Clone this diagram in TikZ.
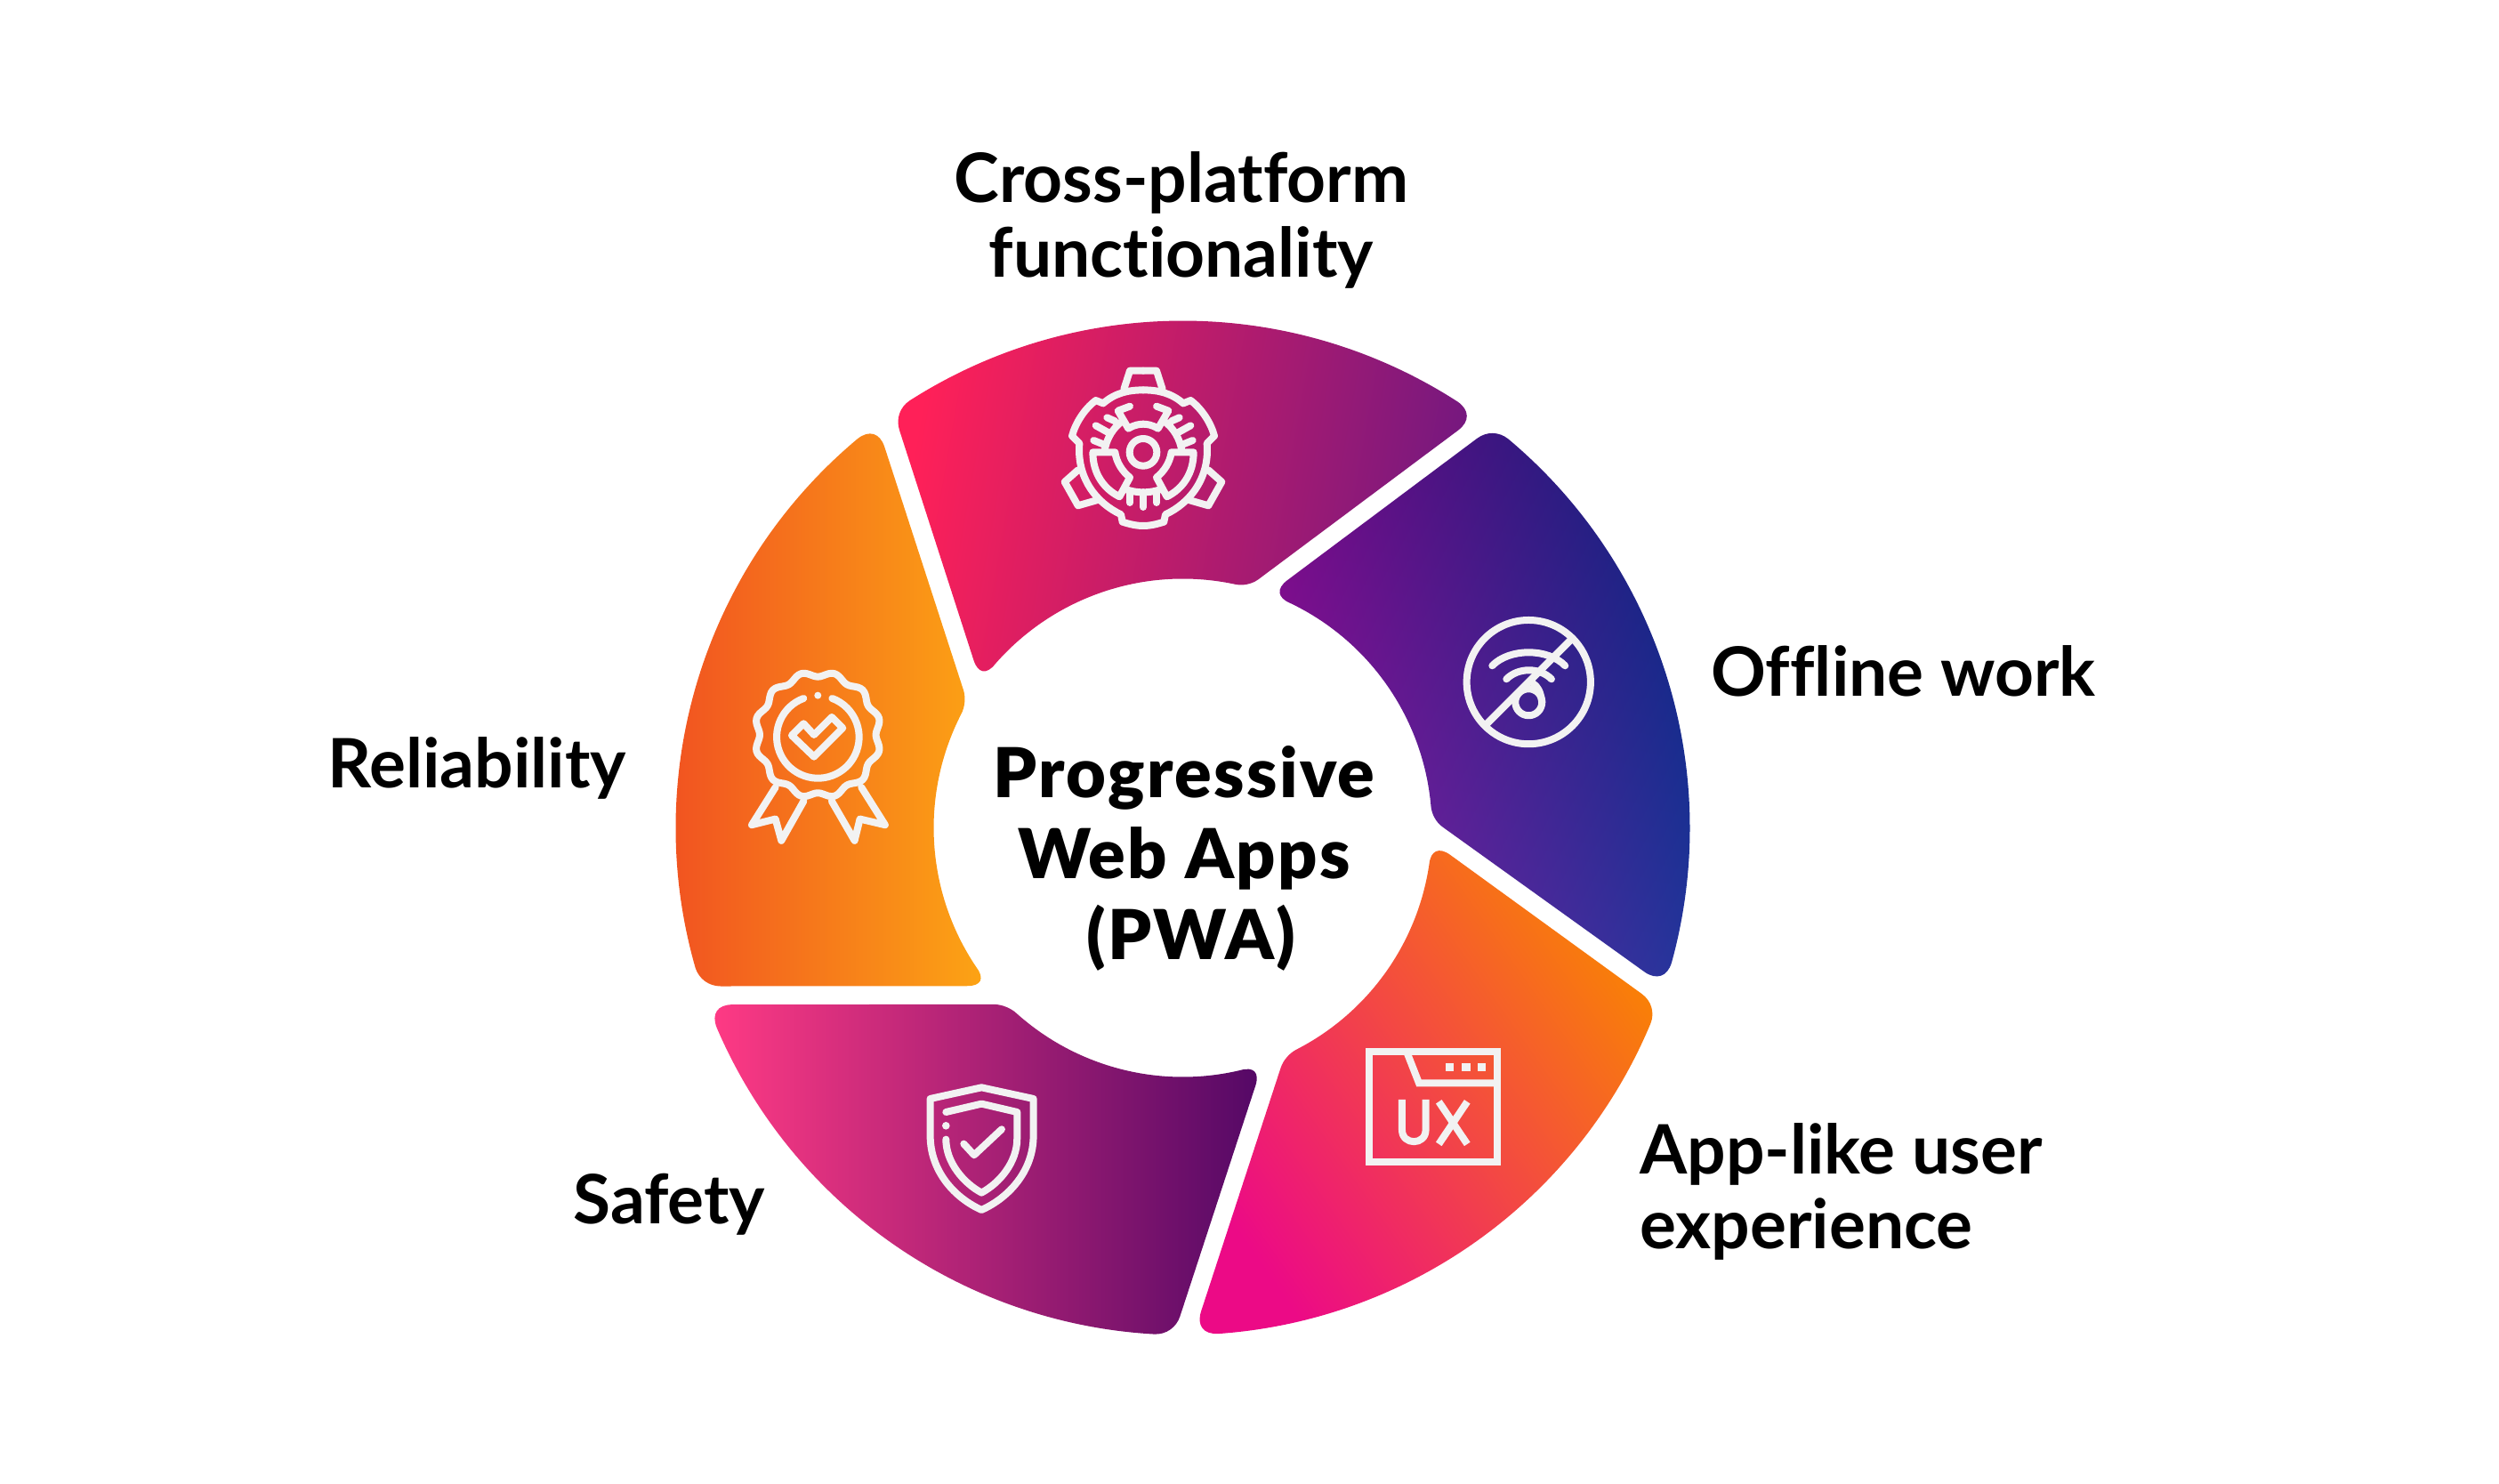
\documentclass[tikz,border=0pt]{standalone}
\usepackage{fontspec}
\setmainfont{Lato}[Ligatures=NoCommon]
\newfontfamily\hubfont{Lato Black}[LetterSpace=3]
\usetikzlibrary{calc}
\definecolor{iconwhite}{HTML}{F2F2F2}
\pgfdeclarefunctionalshading{offlineshade}{\pgfpointorigin}{\pgfpoint{100bp}{100bp}}{}{
  25 sub 50 div exch 25 sub 50 div exch
  1 index .473 mul neg 1 index .113 mul sub .5757 add
  2 index .1133 mul .1043 add 2 index .0749 mul sub
  3 index .0271 mul neg .6349 add 3 index .1196 mul sub
  5 3 roll pop pop
}
\newcommand{\ringseg}[5]{%
  \pgfmathsetmacro{\oa}{#2-2.2}\pgfmathsetmacro{\ob}{#3+2.8}%
  \pgfmathsetmacro{\ic}{#4+3.1}\pgfmathsetmacro{\id}{#5-5.3}%
  \coordinate (A) at ($(ctr)+(#2:5.7)$);
  \coordinate (B) at ($(ctr)+(#3:5.7)$);
  \coordinate (C) at ($(ctr)+(#4:2.8)$);
  \coordinate (D) at ($(ctr)+(#5:2.8)$);
  \coordinate (A1) at ($(A)!.22cm!(D)$);
  \coordinate (A2) at ($(ctr)+(\oa:5.7)$);
  \coordinate (B1) at ($(ctr)+(\ob:5.7)$);
  \coordinate (B2) at ($(B)!.28cm!(C)$);
  \coordinate (C1) at ($(C)!.15cm!(B)$);
  \coordinate (C2) at ($(ctr)+(\ic:2.8)$);
  \coordinate (D1) at ($(ctr)+(\id:2.8)$);
  \coordinate (D2) at ($(D)!.26cm!(A)$);
  \shade[#1] (A1) .. controls ($(A1)!.6!(A)$) and ($(A2)!.6!(A)$) .. (A2) arc[start angle=\oa,end angle=\ob,radius=5.7] .. controls ($(B1)!.6!(B)$) and ($(B2)!.6!(B)$) .. (B2) -- (C1) .. controls ($(C1)!.6!(C)$) and ($(C2)!.6!(C)$) .. (C2) arc[start angle=\ic,end angle=\id,radius=2.8] .. controls ($(D1)!.6!(D)$) and ($(D2)!.6!(D)$) .. (D2) -- cycle;
}

\begin{document}
\begin{tikzpicture}[
  seglabel/.style={font=\bfseries\fontsize{21.8}{23.9}\selectfont,align=left},
  hub/.style={font=\hubfont\fontsize{22}{25.9}\selectfont,align=center},
  icon/.style={draw=iconwhite,line width=.08cm,line cap=round,line join=round},
  zoomed/.style={x=.01cm/3,y=-.01cm/3}
]
\useasboundingbox (0,0) rectangle (28.09,16.67);
\coordinate (ctr) at (13.295,7.365);

% ring
\ringseg{left color={rgb,255:red,255;green,32;blue,88},middle color={rgb,255:red,179;green,38;blue,127},right color={rgb,255:red,117;green,24;blue,127},shading angle=80}{124.8}{54.4}{74.9}{144.2}
\ringseg{shading=offlineshade}{52.3}{-18.2}{2.0}{69.8}
\ringseg{left color={rgb,255:red,236;green,10;blue,134},middle color={rgb,255:red,240;green,60;blue,88},right color={rgb,255:red,249;green,128;blue,7},shading angle=125}{-20.5}{-88.8}{-65.8}{-3.1}
\ringseg{left color={rgb,255:red,255;green,58;blue,132},middle color={rgb,255:red,190;green,38;blue,128},right color={rgb,255:red,84;green,8;blue,102}}{-91}{-159.6}{-134.9}{-71.3}
\ringseg{left color={rgb,255:red,240;green,75;blue,34},middle color={rgb,255:red,246;green,120;blue,32},right color={rgb,255:red,252;green,164;blue,20}}{198.2}{127.1}{149.8}{219.4}

% gear icon
\begin{scope}[shift={(12.85,11.57)},zoomed]
\foreach \s in {1,-1}{
  \begin{scope}[xscale=\s]
  \draw[icon] (0,-280) -- (-45,-280) -- (-65,-218);
  \draw[icon] (0,-215) .. controls (-50,-215) and (-95,-205) .. (-135,-170) -- (-160,-180) .. controls (-200,-150) and (-230,-100) .. (-240,-60) -- (-215,-35) .. controls (-225,80) and (-160,165) .. (-75,205) -- (-70,230) .. controls (-30,243) and (-10,243) .. (0,243);
  \draw[icon] (-220,55) -- (-265,95) -- (-220,175) -- (-150,155);
  \draw[icon] (-130,-10) .. controls (-125,-50) and (-100,-90) .. (-70,-110);
  \draw[icon] (-45,-160) -- (-85,-145) -- (-50,-85) .. controls (-30,-98) and (-10,-100) .. (0,-100);
  \draw[icon] (-122,-122) -- (-95,-110);
  \draw[icon] (-160,-95) -- (-115,-70);
  \draw[icon] (-167,-45) -- (-130,-30);
  \draw[icon] (-170,-5) -- (-95,-5) .. controls (-90,30) and (-70,60) .. (-45,80) -- (-80,145) .. controls (-130,120) and (-170,70) .. cycle;
  \draw[icon] (-60,120) .. controls (-30,130) and (-10,130) .. (0,130);
  \draw[icon] (-45,130) -- (-45,165);
  \end{scope}
}
\draw[icon] (0,130) -- (0,180);
\draw[icon] (0,-5) circle[radius=46];
\end{scope}

% no wifi icon
\begin{scope}[shift={(16,10.07)},zoomed]
\draw[icon] (355,320) circle[radius=209];
\draw[icon,line cap=butt] (213,462) -- (500,175);
\draw[icon] (232,265) .. controls (290,205) and (420,205) .. (478,265);
\draw[icon] (280,310) .. controls (320,270) and (392,270) .. (432,310);
\draw[icon] (355,388) circle[radius=45];
\draw[icon] (370,325) .. controls (385,335) and (395,350) .. (400,388);
\end{scope}

% ux icon
\begin{scope}[shift={(15,5.17)},zoomed]
\draw[icon,line cap=butt,line join=miter] (118,95) rectangle (550,468);
\draw[icon,line cap=butt,line join=miter] (245,100) -- (285,202) -- (550,202);
\foreach \bx in {375,430,483}{
  \fill[iconwhite] (\bx,135) rectangle ++(28,28);
}
\draw[icon,line cap=butt] (228,258) -- (228,360) .. controls (228,413) and (308,413) .. (308,360) -- (308,258);
\draw[icon,line cap=butt] (352,265) -- (448,408);
\draw[icon,line cap=butt] (448,265) -- (352,408);
\end{scope}

% shield icon
\begin{scope}[shift={(10.1,4.77)},zoomed]
\draw[icon] (107,135) -- (107,260) .. controls (107,380) and (190,470) .. (280,510) .. controls (370,470) and (455,380) .. (455,260) -- (455,135) -- (280,97) -- cycle;
\draw[icon] (160,180) -- (280,152) -- (400,180) -- (400,270) .. controls (400,350) and (340,420) .. (280,452) .. controls (220,420) and (160,350) .. (160,272);
\fill[iconwhite] (160,226) circle[radius=13];
\draw[icon] (220,287) -- (255,325) -- (348,238);
\end{scope}

% badge icon
\begin{scope}[shift={(8.2,9.37)},zoomed]
\draw[icon] plot[domain=0:360,samples=145,smooth cycle] ({298+(205-9*cos(12*\x))*cos(\x)},{288+(205-9*cos(12*\x))*sin(\x)});
\draw[icon] (250,165) arc[start angle=249.7,end angle=-69.7,radius=139];
\fill[iconwhite] (298,155) circle[radius=12];
\draw[icon] (210,290) -- (250,250) -- (285,288) -- (345,228) -- (382,265) -- (285,362) -- cycle;
\draw[icon] (155,465) -- (75,592) -- (155,572) -- (175,645) -- (250,512);
\draw[icon] (445,465) -- (525,592) -- (440,572) -- (422,645) -- (345,512);
\end{scope}

% labels
\node[seglabel,align=center] (crossplatform) at (13.28,14.20) {Cross-platform\\functionality};
\node[seglabel,anchor=west] (offline) at (19.11,9.13) {Offline work};
\node[seglabel,anchor=west] (applike) at (18.31,3.28) {App-like user\\experience};
\node[seglabel,anchor=west] (safety) at (6.32,3.13) {Safety};
\node[seglabel,anchor=west] (reliability) at (3.56,8.04) {Reliability};
\node[hub] (pwa) at (13.31,7.025) {Progressive\\Web Apps\\\hspace*{.16cm}(PWA)};
\end{tikzpicture}
\end{document}
